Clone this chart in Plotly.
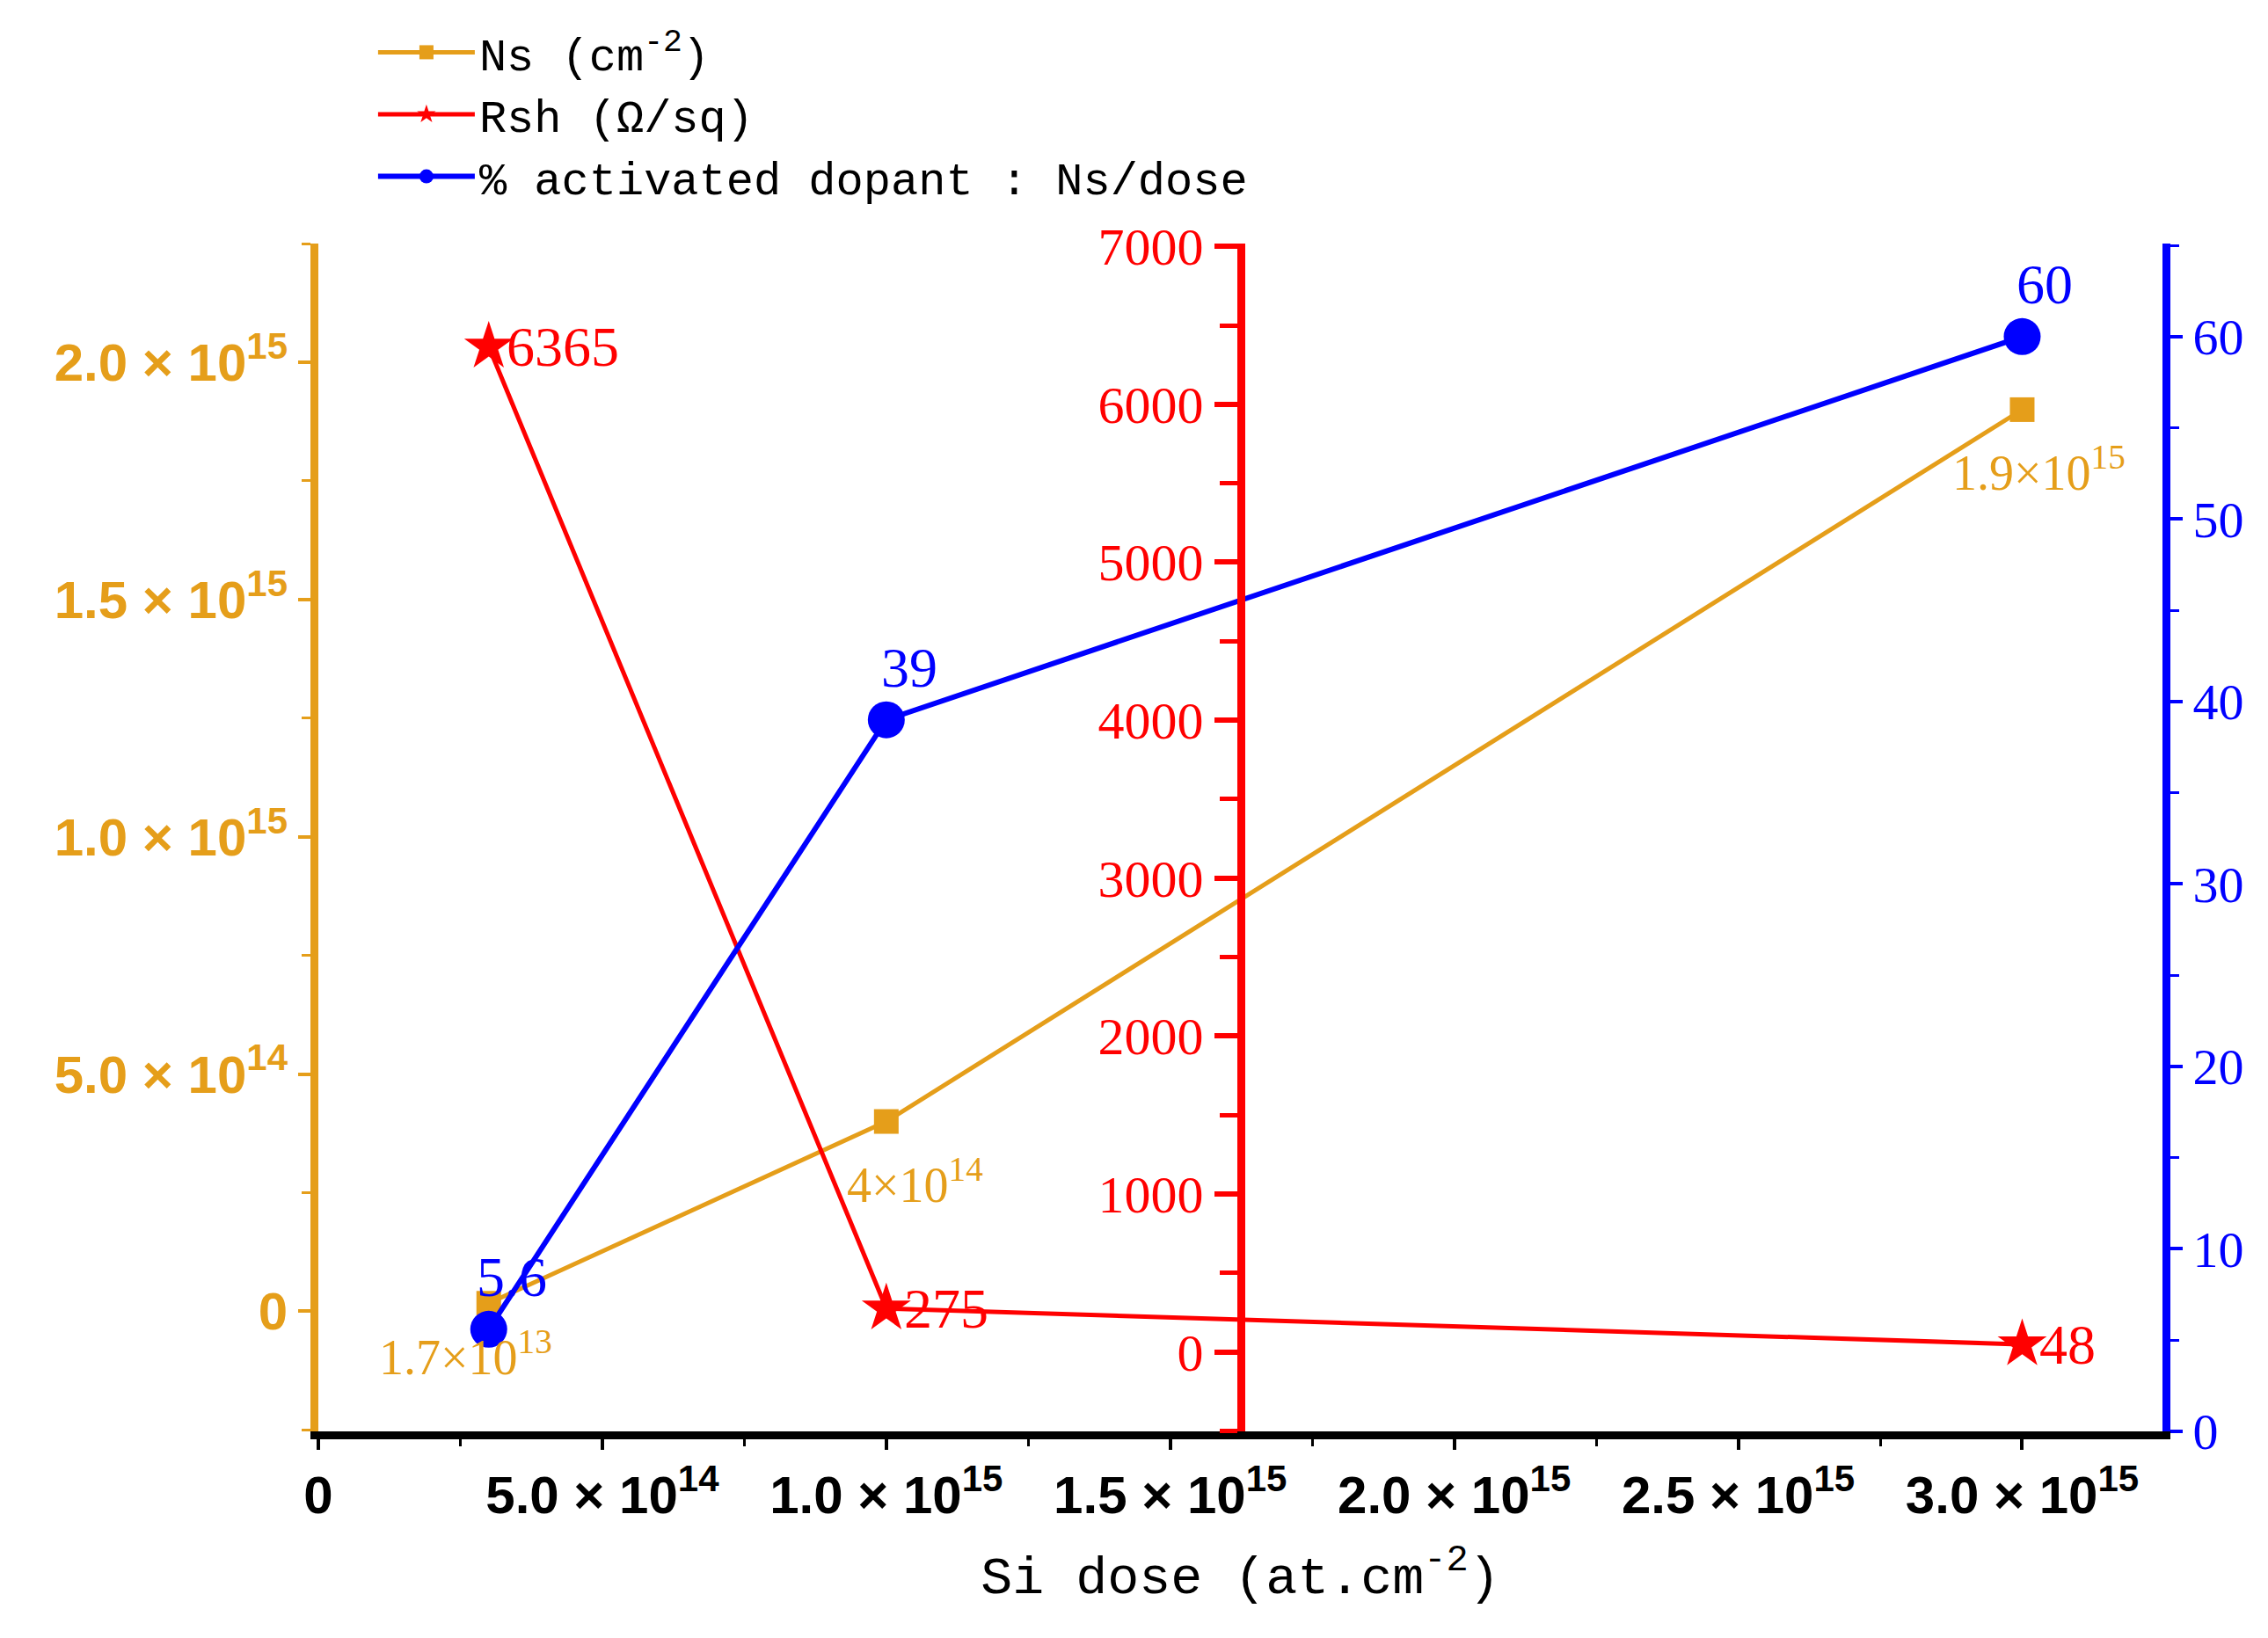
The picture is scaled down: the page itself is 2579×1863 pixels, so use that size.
import plotly.graph_objects as go

dose = [3e14, 1e15, 3e15]
ns = [1.7e13, 4e14, 1.9e15]
rsh = [6365, 275, 48]
act = [5.6, 39, 60]
ns_labels = ["1.7×10<sup>13</sup>", "4×10<sup>14</sup>", "1.9×10<sup>15</sup>"]
rsh_labels = ["6365", "275", "48"]
act_labels = ["5.6", "39", "60"]
x_ticks = [0, 5e14, 1e15, 1.5e15, 2e15, 2.5e15, 3e15]
x_ticktext = ["0", "5.0 × 10<sup>14</sup>", "1.0 × 10<sup>15</sup>", "1.5 × 10<sup>15</sup>",
              "2.0 × 10<sup>15</sup>", "2.5 × 10<sup>15</sup>", "3.0 × 10<sup>15</sup>"]
ns_ticks = [0, 5e14, 1e15, 1.5e15, 2e15]
ns_ticktext = ["0", "5.0 × 10<sup>14</sup>", "1.0 × 10<sup>15</sup>", "1.5 × 10<sup>15</sup>", "2.0 × 10<sup>15</sup>"]

OR, RD, BL = "#E59E1A", "#FF0000", "#0000FF"
mono = "Liberation Mono"
serif = "Liberation Serif"

fig = go.Figure()
fig.add_trace(go.Scatter(x=dose, y=ns, name="Ns (cm<sup>-2</sup>)", mode="lines+markers",
                         line=dict(color=OR, width=5), marker=dict(symbol="square", size=28, color=OR),
                         yaxis="y"))
fig.add_trace(go.Scatter(x=dose, y=rsh, name="Rsh (Ω/sq)", mode="lines+markers",
                         line=dict(color=RD, width=5), marker=dict(symbol="star", size=42, color=RD),
                         yaxis="y2"))
fig.add_trace(go.Scatter(x=dose, y=act, name="% activated dopant : Ns/dose", mode="lines+markers",
                         line=dict(color=BL, width=6), marker=dict(symbol="circle", size=42, color=BL),
                         yaxis="y3"))

ann = []
ns_pos = [(-4e13, "top", "center", -20), (0.5e14, "top", "center", -30), (0.3e14, "top", "center", -30)]
for xv, yv, t, (dx, ya, xa, yoff) in zip(dose, ns, ns_labels, ns_pos):
    ann.append(dict(x=xv + dx, y=yv, yref="y", text=t, showarrow=False, yanchor=ya, xanchor=xa,
                    yshift=yoff, font=dict(family=serif, size=56, color=OR)))
for xv, yv, t in zip(dose, rsh, rsh_labels):
    ann.append(dict(x=xv, y=yv, yref="y2", text=t, showarrow=False, xanchor="left", xshift=18,
                    font=dict(family=serif, size=64, color=RD)))
for xv, yv, t in zip(dose, act, act_labels):
    ann.append(dict(x=xv + 4e13, y=yv, yref="y3", text=t, showarrow=False, yanchor="bottom", yshift=22,
                    font=dict(family=serif, size=64, color=BL)))

fig.update_layout(
    width=2579, height=1863, paper_bgcolor="white", plot_bgcolor="white",
    margin=dict(l=354, r=128, t=268, b=243),
    showlegend=True,
    legend=dict(x=0.03, y=1.19, xanchor="left", yanchor="top", bgcolor="rgba(0,0,0,0)",
                font=dict(family=mono, size=52, color="black"), itemwidth=110, tracegroupgap=0),
    annotations=ann,
    xaxis=dict(range=[0, 3.247e15], tickvals=x_ticks, ticktext=x_ticktext, showgrid=False, zeroline=False,
               showline=True, linecolor="black", linewidth=9, ticks="outside", ticklen=12, tickwidth=4,
               tickcolor="black", minor=dict(ticks="outside", ticklen=8, tickwidth=3, tickcolor="black", dtick=2.5e14),
               tickfont=dict(family="Liberation Sans", size=60, color="black", weight="bold"),
               title=dict(text="Si dose (at.cm<sup>-2</sup>)", font=dict(family=mono, size=60, color="black"), standoff=40)),
    yaxis=dict(range=[-0.253e15, 2.25e15], tickvals=ns_ticks, ticktext=ns_ticktext, showgrid=False, zeroline=False,
               showline=True, linecolor=OR, linewidth=9, ticks="outside", ticklen=14, tickwidth=4, tickcolor=OR,
               minor=dict(ticks="outside", ticklen=10, tickwidth=3, tickcolor=OR, dtick=2.5e14),
               tickfont=dict(family="Liberation Sans", size=60, color=OR, weight="bold")),
    yaxis2=dict(range=[-503, 7018], overlaying="y", anchor="free", position=0.5, side="left",
                tickvals=[0, 1000, 2000, 3000, 4000, 5000, 6000, 7000], showgrid=False, zeroline=False,
                showline=True, linecolor=RD, linewidth=9, ticks="outside", ticklen=26, tickwidth=6, tickcolor=RD,
                minor=dict(ticks="outside", ticklen=20, tickwidth=5, tickcolor=RD, dtick=500),
                tickfont=dict(family=serif, size=60, color=RD)),
    yaxis3=dict(range=[0, 65.1], overlaying="y", anchor="x", side="right", tickvals=[0, 10, 20, 30, 40, 50, 60],
                showgrid=False, zeroline=False, showline=True, linecolor=BL, linewidth=9, ticks="outside",
                ticklen=14, tickwidth=4, tickcolor=BL,
                minor=dict(ticks="outside", ticklen=10, tickwidth=3, tickcolor=BL, dtick=5),
                tickfont=dict(family=serif, size=58, color=BL)),
)
fig.write_html("out.html")
